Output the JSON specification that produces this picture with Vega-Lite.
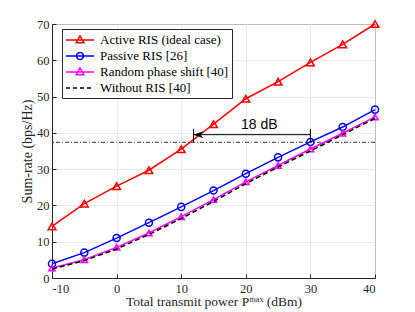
{
  "$schema": "https://vega.github.io/schema/vega-lite/v6.json",
  "width": 323,
  "height": 254,
  "autosize": {"type": "none"},
  "padding": {"left": 52, "top": 24, "right": 40, "bottom": 34},
  "background": "white",
  "config": {
    "view": {"stroke": "#262626", "strokeWidth": 1},
    "axis": {
      "labelFont": "Liberation Serif",
      "titleFont": "Liberation Serif",
      "labelFontSize": 12.5,
      "titleFontSize": 14,
      "labelColor": "#262626",
      "titleColor": "#262626",
      "titleFontWeight": "normal",
      "domainColor": "#262626",
      "tickColor": "#262626",
      "gridColor": "#e3e3e3",
      "gridWidth": 0.8,
      "tickSize": -4,
      "labelPadding": 7
    },
    "legend": {
      "labelFont": "Liberation Serif",
      "labelFontSize": 13,
      "labelColor": "#000000"
    }
  },
  "datasets": {
    "curves": [
      {"x": -10, "y": 14.2, "s": "Active RIS (ideal case)"},
      {"x": -5, "y": 20.5, "s": "Active RIS (ideal case)"},
      {"x": 0, "y": 25.3, "s": "Active RIS (ideal case)"},
      {"x": 5, "y": 29.7, "s": "Active RIS (ideal case)"},
      {"x": 10, "y": 35.5, "s": "Active RIS (ideal case)"},
      {"x": 15, "y": 42.4, "s": "Active RIS (ideal case)"},
      {"x": 20, "y": 49.4, "s": "Active RIS (ideal case)"},
      {"x": 25, "y": 54.1, "s": "Active RIS (ideal case)"},
      {"x": 30, "y": 59.4, "s": "Active RIS (ideal case)"},
      {"x": 35, "y": 64.4, "s": "Active RIS (ideal case)"},
      {"x": 40, "y": 70.0, "s": "Active RIS (ideal case)"},
      {"x": -10, "y": 3.95, "s": "Passive RIS [26]"},
      {"x": -5, "y": 7.0, "s": "Passive RIS [26]"},
      {"x": 0, "y": 11.0, "s": "Passive RIS [26]"},
      {"x": 5, "y": 15.25, "s": "Passive RIS [26]"},
      {"x": 10, "y": 19.6, "s": "Passive RIS [26]"},
      {"x": 15, "y": 24.1, "s": "Passive RIS [26]"},
      {"x": 20, "y": 28.75, "s": "Passive RIS [26]"},
      {"x": 25, "y": 33.25, "s": "Passive RIS [26]"},
      {"x": 30, "y": 37.5, "s": "Passive RIS [26]"},
      {"x": 35, "y": 41.6, "s": "Passive RIS [26]"},
      {"x": 40, "y": 46.4, "s": "Passive RIS [26]"},
      {"x": -10, "y": 2.75, "s": "Random phase shift [40]"},
      {"x": -5, "y": 5.05, "s": "Random phase shift [40]"},
      {"x": 0, "y": 8.45, "s": "Random phase shift [40]"},
      {"x": 5, "y": 12.4, "s": "Random phase shift [40]"},
      {"x": 10, "y": 16.9, "s": "Random phase shift [40]"},
      {"x": 15, "y": 21.6, "s": "Random phase shift [40]"},
      {"x": 20, "y": 26.5, "s": "Random phase shift [40]"},
      {"x": 25, "y": 31.0, "s": "Random phase shift [40]"},
      {"x": 30, "y": 35.55, "s": "Random phase shift [40]"},
      {"x": 35, "y": 39.9, "s": "Random phase shift [40]"},
      {"x": 40, "y": 44.4, "s": "Random phase shift [40]"},
      {"x": -10, "y": 2.5, "s": "Without RIS [40]"},
      {"x": -5, "y": 4.8, "s": "Without RIS [40]"},
      {"x": 0, "y": 8.0, "s": "Without RIS [40]"},
      {"x": 5, "y": 12.0, "s": "Without RIS [40]"},
      {"x": 10, "y": 16.4, "s": "Without RIS [40]"},
      {"x": 15, "y": 21.1, "s": "Without RIS [40]"},
      {"x": 20, "y": 26.0, "s": "Without RIS [40]"},
      {"x": 25, "y": 30.6, "s": "Without RIS [40]"},
      {"x": 30, "y": 35.0, "s": "Without RIS [40]"},
      {"x": 35, "y": 39.5, "s": "Without RIS [40]"},
      {"x": 40, "y": 44.0, "s": "Without RIS [40]"}
    ]
  },
  "encoding": {
    "x": {
      "field": "x", "type": "quantitative",
      "scale": {"domain": [-10, 40], "nice": false},
      "axis": {"values": [-10, 0, 10, 20, 30, 40], "labelExpr": "replace(datum.label, '−', '-')", "title": "Total transmit power Pᵐᵃˣ (dBm)", "labelPadding": 8, "titlePadding": 0, "titleFontSize": 13.5}
    },
    "y": {
      "field": "y", "type": "quantitative",
      "scale": {"domain": [0, 70], "nice": false},
      "axis": {"values": [0, 10, 20, 30, 40, 50, 60, 70], "title": "Sum-rate (bps/Hz)", "titlePadding": 2}
    }
  },
  "layer": [
    {
      "data": {"values": [{"y": 37.4}]},
      "mark": {"type": "rule", "color": "#333333", "strokeWidth": 1, "strokeDash": [4, 2, 1, 2]},
      "encoding": {"x": null}
    },
    {
      "data": {"name": "curves"},
      "transform": [{"filter": "datum.s !== 'Without RIS [40]'"}],
      "mark": {"type": "line", "strokeWidth": 1.5},
      "encoding": {
        "color": {
          "field": "s", "type": "nominal",
          "scale": {
            "domain": ["Active RIS (ideal case)", "Passive RIS [26]", "Random phase shift [40]", "Without RIS [40]"],
            "range": ["#ff0000", "#0000ff", "#ff00ff", "#000000"]
          },
          "legend": {
            "title": null,
            "orient": "none",
            "legendX": 10,
            "legendY": 5,
            "strokeColor": "#262626",
            "fillColor": "white",
            "padding": 3,
            "symbolSize": 196,
            "symbolStrokeWidth": 1.5,
            "labelOffset": 19,
            "rowPadding": 1,
            "encode": {
              "symbols": {
                "update": {
                  "shape": {"signal": "datum.value === 'Passive RIS [26]' ? 'M-1,0H3M1.5,0A0.5,0.5 0 1,1 0.5,0A0.5,0.5 0 1,1 1.5,0' : (datum.value === 'Without RIS [40]' ? 'M-1,0H3' : 'M-1,0H3M1,-0.6L1.55,0.4H0.45Z')"},
                  "strokeDash": {"signal": "datum.value === 'Without RIS [40]' ? [4, 3] : [1, 0]"},
                  "fill": {"value": "transparent"},
                  "strokeWidth": {"value": 1.5}
                }
              }
            }
          }
        }
      }
    },
    {
      "data": {"name": "curves"},
      "transform": [{"filter": "datum.s !== 'Without RIS [40]'"}],
      "mark": {"type": "point", "filled": false, "strokeWidth": 1.5, "opacity": 1},
      "encoding": {
        "color": {"field": "s", "type": "nominal"},
        "shape": {
          "field": "s", "type": "nominal", "legend": null,
          "scale": {"domain": ["Active RIS (ideal case)", "Passive RIS [26]", "Random phase shift [40]"], "range": ["triangle-up", "circle", "triangle-up"]}
        },
        "size": {
          "field": "s", "type": "nominal", "legend": null,
          "scale": {"domain": ["Active RIS (ideal case)", "Passive RIS [26]", "Random phase shift [40]"], "range": [60, 40, 60]}
        }
      }
    },
    {
      "data": {"name": "curves"},
      "transform": [{"filter": "datum.s === 'Without RIS [40]'"}],
      "mark": {"type": "line", "strokeWidth": 1.5, "strokeDash": [5, 3]},
      "encoding": {"color": {"field": "s", "type": "nominal"}}
    },
    {
      "data": {"values": [{"x": 30, "x2": 11.9, "y": 39.5}]},
      "mark": {"type": "rule", "color": "#000000", "strokeWidth": 1},
      "encoding": {"x2": {"field": "x2"}}
    },
    {
      "data": {"values": [{"x": 11.9, "y": 39.5}]},
      "mark": {"type": "point", "filled": true, "color": "#000000", "opacity": 1, "shape": "M0,0L2,-0.7L1.4,0L2,0.7Z", "size": 100},
      "encoding": {}
    },
    {
      "data": {"values": [{"x": 11.9, "y": 37.4, "y2": 41.1}, {"x": 30, "y": 37.4, "y2": 41.1}]},
      "mark": {"type": "rule", "color": "#000000", "strokeWidth": 1},
      "encoding": {"y2": {"field": "y2"}}
    },
    {
      "data": {"values": [{"x": 22.1, "y": 42.2, "t": "18 dB"}]},
      "mark": {"type": "text", "font": "Liberation Sans", "fontSize": 14, "color": "#000000"},
      "encoding": {"text": {"field": "t"}}
    }
  ]
}
